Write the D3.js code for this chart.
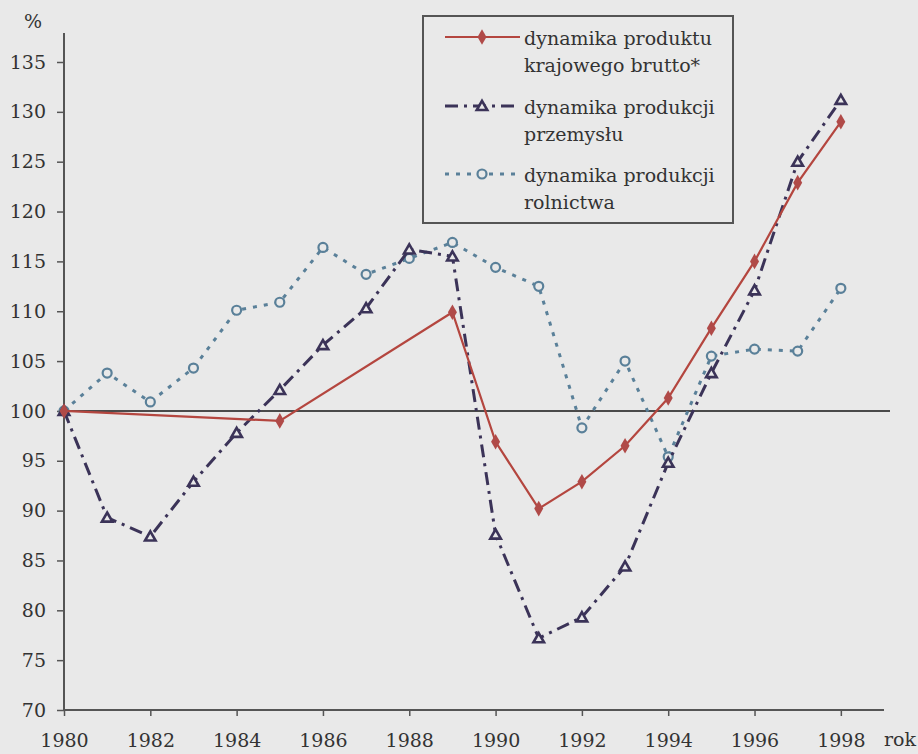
<!DOCTYPE html>
<html lang="pl">
	<head>
		<meta charset="utf-8">
		<title>Dynamika PKB, przemysłu i rolnictwa</title>
		<script type="text/javascript" src="https://cdn.jsdelivr.net/npm/d3@7"></script>
		<style type="text/css">
			body {
				margin: 0px;
				background: #e9e9e9;
			}
			svg text {
				font-family: "DejaVu Serif", serif !important;
				fill: #333;
			}
		</style>
	</head>
	<body>
		<div id="chart"></div>
		<script type="text/javascript">
			//Data
			var gdpYears = [1980, 1985, 1989, 1990, 1991, 1992, 1993, 1994, 1995, 1996, 1997, 1998];
			var gdpValues = [100, 99.0, 109.9, 96.9, 90.2, 92.9, 96.5, 101.3, 108.3, 115.0, 122.9, 129.0];

			var years = [1980, 1981, 1982, 1983, 1984, 1985, 1986, 1987, 1988, 1989,
				1990, 1991, 1992, 1993, 1994, 1995, 1996, 1997, 1998];
			var industryValues = [100, 89.3, 87.4, 92.9, 97.8, 102.1, 106.6, 110.3, 116.2, 115.5,
				87.6, 77.2, 79.3, 84.4, 94.8, 103.8, 112.1, 125.0, 131.2];
			var agricultureValues = [100, 103.8, 100.9, 104.3, 110.1, 110.9, 116.4, 113.7, 115.3, 116.9,
				114.4, 112.5, 98.3, 105.0, 95.4, 105.5, 106.2, 106.0, 112.3];

			var yTicks = [70, 75, 80, 85, 90, 95, 100, 105, 110, 115, 120, 125, 130, 135];
			var xTicks = [1980, 1982, 1984, 1986, 1988, 1990, 1992, 1994, 1996, 1998];

			var legendLabels = [
				["dynamika produktu", "krajowego brutto*"],
				["dynamika produkcji", "przemysłu"],
				["dynamika produkcji", "rolnictwa"]
			];

			//Setup
			var w = 918;
			var h = 754;
			var red = "#b4463f";
			var navy = "#3b3358";
			var steel = "#5a8099";

			var svg = d3.select("#chart")
				.append("svg")
				.attr("width", w)
				.attr("height", h);

			var x = d3.scaleLinear()
				.domain([1980, 1999])
				.range([64, 884]);

			var y = d3.scaleLinear()
				.domain([70, 135])
				.range([710, 62]);

			//Axes
			var yAxis = svg.append("g")
				.attr("transform", "translate(" + x(1980) + ",0)")
				.call(d3.axisLeft(y).tickValues(yTicks).tickSize(7).tickPadding(11));
			yAxis.select(".domain").remove();
			yAxis.append("line")
				.attr("x1", 0).attr("x2", 0)
				.attr("y1", 33).attr("y2", y(70))
				.attr("stroke", "#555")
				.attr("stroke-width", 2);

			var xAxis = svg.append("g")
				.attr("transform", "translate(0," + y(70) + ")")
				.call(d3.axisBottom(x).tickValues(xTicks).tickFormat(d3.format("d")).tickSize(6).tickPadding(18));
			xAxis.select(".domain")
				.attr("d", "M" + x(1980) + ",0H" + x(1999))
				.attr("stroke", "#555")
				.attr("stroke-width", 2);

			svg.selectAll(".tick line").attr("stroke", "#555").attr("stroke-width", 1.5);
			svg.selectAll(".tick text")
				.attr("font-size", "19px")
				.attr("fill", "#333");

			svg.append("text")
				.attr("x", 33)
				.attr("y", 28)
				.attr("text-anchor", "middle")
				.attr("font-size", "19px")
				.text("%");

			svg.append("text")
				.attr("x", 884)
				.attr("y", 746)
				.attr("font-size", "19px")
				.text("rok");

			//Base line at 100
			svg.append("line")
				.attr("x1", x(1980))
				.attr("x2", 890)
				.attr("y1", y(100))
				.attr("y2", y(100))
				.attr("stroke", "#4a4a4a")
				.attr("stroke-width", 2);

			var line = d3.line()
				.x(function(d) { return x(d[0]); })
				.y(function(d) { return y(d[1]); });

			var gdp = d3.zip(gdpYears, gdpValues);
			var industry = d3.zip(years, industryValues);
			var agriculture = d3.zip(years, agricultureValues);

			//Agriculture
			svg.append("path")
				.datum(agriculture)
				.attr("d", line)
				.attr("fill", "none")
				.attr("stroke", steel)
				.attr("stroke-width", 3)
				.attr("stroke-dasharray", "4,7");

			svg.selectAll(".agri")
				.data(agriculture)
				.enter()
				.append("circle")
				.attr("class", "agri")
				.attr("cx", function(d) { return x(d[0]); })
				.attr("cy", function(d) { return y(d[1]); })
				.attr("r", 4.5)
				.attr("fill", "#e9e9e9")
				.attr("stroke", steel)
				.attr("stroke-width", 2.2);

			//Industry
			svg.append("path")
				.datum(industry)
				.attr("d", line)
				.attr("fill", "none")
				.attr("stroke", navy)
				.attr("stroke-width", 3)
				.attr("stroke-dasharray", "13,6,3,6");

			var tri = d3.symbol().type(d3.symbolTriangle).size(48);
			svg.selectAll(".ind")
				.data(industry)
				.enter()
				.append("path")
				.attr("class", "ind")
				.attr("d", tri)
				.attr("transform", function(d) { return "translate(" + x(d[0]) + "," + (y(d[1]) + 1) + ")"; })
				.attr("fill", "#e9e9e9")
				.attr("stroke", navy)
				.attr("stroke-width", 2.6);

			//GDP
			svg.append("path")
				.datum(gdp)
				.attr("d", line)
				.attr("fill", "none")
				.attr("stroke", red)
				.attr("stroke-width", 2.2);

			var dia = d3.symbol().type(d3.symbolDiamond).size(70);
			svg.selectAll(".gdp")
				.data(gdp)
				.enter()
				.append("path")
				.attr("class", "gdp")
				.attr("d", dia)
				.attr("transform", function(d) { return "translate(" + x(d[0]) + "," + y(d[1]) + ")"; })
				.attr("fill", "#b04a48");

			//Legend
			var legend = svg.append("g");
			legend.append("rect")
				.attr("x", 423)
				.attr("y", 16)
				.attr("width", 310)
				.attr("height", 207)
				.attr("fill", "#e9e9e9")
				.attr("stroke", "#555")
				.attr("stroke-width", 2);

			var rowY = [37, 106, 174];
			var styles = [
				{stroke: red, dash: null},
				{stroke: navy, dash: "13,6,3,6"},
				{stroke: steel, dash: "4,7"}
			];

			legendLabels.forEach(function(lab, i) {
				legend.append("line")
					.attr("x1", 445)
					.attr("x2", 520)
					.attr("y1", rowY[i])
					.attr("y2", rowY[i])
					.attr("stroke", styles[i].stroke)
					.attr("stroke-width", i == 0 ? 2.2 : 3)
					.attr("stroke-dasharray", styles[i].dash);

				legend.selectAll(".t" + i)
					.data(lab)
					.enter()
					.append("text")
					.attr("x", 524)
					.attr("y", function(d, j) { return rowY[i] + 8 + j * 27; })
					.attr("font-size", "19px")
					.text(function(d) { return d; });
			});

			legend.append("path")
				.attr("d", dia)
				.attr("transform", "translate(482," + rowY[0] + ")")
				.attr("fill", "#b04a48");
			legend.append("path")
				.attr("d", tri)
				.attr("transform", "translate(482," + (rowY[1] + 1) + ")")
				.attr("fill", "#e9e9e9")
				.attr("stroke", navy)
				.attr("stroke-width", 2.6);
			legend.append("circle")
				.attr("cx", 482)
				.attr("cy", rowY[2])
				.attr("r", 4.5)
				.attr("fill", "#e9e9e9")
				.attr("stroke", steel)
				.attr("stroke-width", 2.2);
		</script>
	</body>
</html>
